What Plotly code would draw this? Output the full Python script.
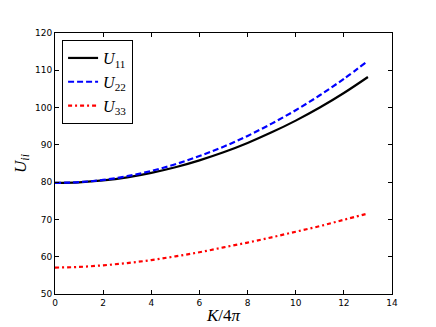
import plotly.graph_objects as go

k = [0, 1, 2, 3, 4, 5, 6, 7, 8, 9, 10, 11, 12, 13]
u11 = [79.8, 79.95, 80.45, 81.3, 82.5, 84.0, 85.85, 88.0, 90.5, 93.35, 96.5, 100.0, 103.9, 108.2]
u22 = [79.8, 80.0, 80.6, 81.6, 83.0, 84.8, 87.0, 89.5, 92.4, 95.7, 99.3, 103.3, 107.7, 112.5]
u33 = [57.1, 57.25, 57.7, 58.3, 59.1, 60.1, 61.2, 62.5, 63.8, 65.2, 66.7, 68.2, 69.9, 71.6]

names = ["<i>U</i><sub>11</sub>", "<i>U</i><sub>22</sub>", "<i>U</i><sub>33</sub>"]

fig = go.Figure()
fig.add_trace(go.Scatter(x=k, y=u11, mode="lines", name=names[0],
                         line=dict(color="black", width=2.2, shape="spline")))
fig.add_trace(go.Scatter(x=k, y=u22, mode="lines", name=names[1],
                         line=dict(color="blue", width=2.2, dash="6px,3px", shape="spline")))
fig.add_trace(go.Scatter(x=k, y=u33, mode="lines", name=names[2],
                         line=dict(color="red", width=2.2, dash="4px,3px,2px,3px", shape="spline")))

axis_common = dict(
    showline=True, linecolor="black", linewidth=1, mirror="allticks",
    ticks="inside", ticklen=4, tickcolor="black", showgrid=False, zeroline=False,
    automargin=False,
    tickfont=dict(family="DejaVu Sans", size=9, color="black"),
)

fig.update_layout(
    width=436, height=327,
    margin=dict(l=47, r=52, t=25, b=41),
    paper_bgcolor="white", plot_bgcolor="white",
    xaxis=dict(range=[0, 14], dtick=2, **axis_common,
               title=dict(text="<i>K</i>/4<i>π</i>", standoff=2,
                          font=dict(family="Liberation Serif", size=17, color="black"))),
    yaxis=dict(range=[50, 120], dtick=10, **axis_common,
               title=dict(text="<i>U</i><sub><i>ii</i></sub>", standoff=4,
                          font=dict(family="Liberation Serif", size=17, color="black"))),
    legend=dict(x=0.021, y=0.973, xanchor="left", yanchor="top",
                bordercolor="black", borderwidth=1, bgcolor="white",
                itemwidth=30,
                font=dict(family="Liberation Serif", size=16, color="black")),
    showlegend=True,
)

fig.write_html("out.html")
